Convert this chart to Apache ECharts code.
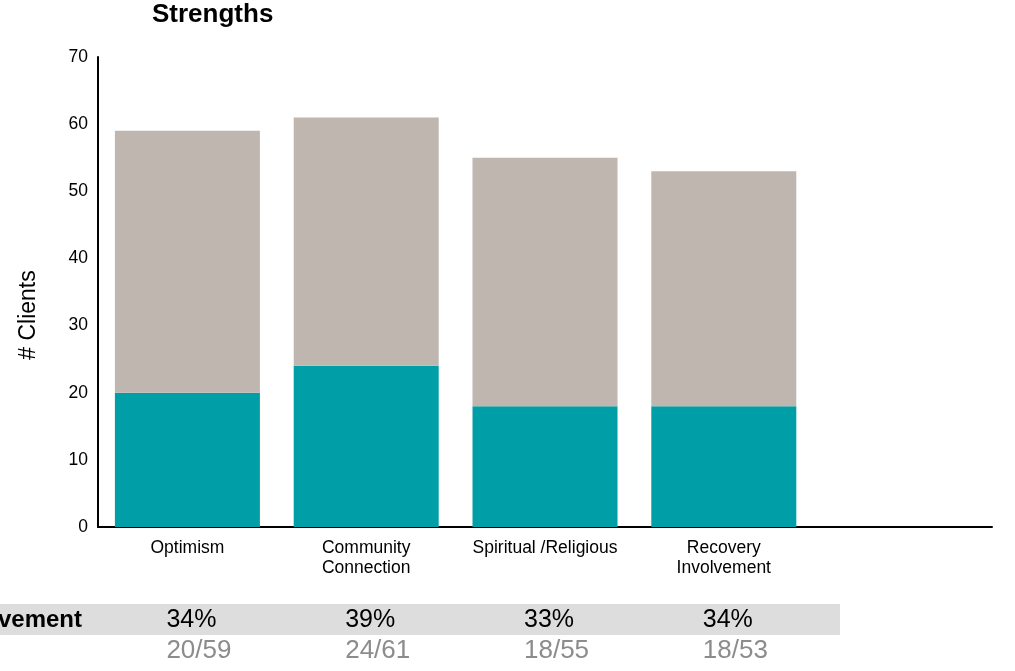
<!DOCTYPE html>
<html>
<head>
<meta charset="utf-8">
<script src="https://cdn.jsdelivr.net/npm/echarts@6/dist/echarts.min.js"></script>
<style>
html,body{margin:0;padding:0;background:#fff;}
#chart{width:1015px;height:671px;}
</style>
</head>
<body>
<div id="chart"></div>
<script>
const categories = ['Optimism', 'Community\nConnection', 'Spiritual /Religious', 'Recovery\nInvolvement', ''];
const involved = [20, 24, 18, 18, null];
const remainder = [39, 37, 37, 35, null];
const yTicks = { min: 0, max: 70, interval: 10 };
const pctLabels = ['34%', '39%', '33%', '34%'];
const fracLabels = ['20/59', '24/61', '18/55', '18/53'];
const rowLabel = 'Involvement';
const yTitle = '# Clients';

const FONT = 'Liberation Sans, Arial, sans-serif';
const chart = echarts.init(document.getElementById('chart'), null, { renderer: 'canvas' });

const option = {
  animation: false,
  backgroundColor: '#ffffff',
  title: {
    text: 'Strengths',
    left: 147, top: -3,
    textStyle: { fontFamily: FONT, fontSize: 26, fontWeight: 'bold', color: '#000' }
  },
  grid: { left: 98, right: 23, top: 57, bottom: 144, containLabel: false },
  xAxis: {
    type: 'category',
    data: categories,
    axisLine: { lineStyle: { color: '#000', width: 2 } },
    axisTick: { show: false },
    axisLabel: { interval: 0, margin: 11, fontFamily: FONT, fontSize: 17.5, lineHeight: 20, color: '#000' }
  },
  yAxis: {
    type: 'value',
    min: yTicks.min, max: yTicks.max, interval: yTicks.interval,
    axisLine: { show: true, lineStyle: { color: '#000', width: 2 } },
    axisTick: { show: false },
    splitLine: { show: false },
    axisLabel: { margin: 10, fontFamily: FONT, fontSize: 17.5, color: '#000' }
  },
  series: [
    { type: 'bar', stack: 's', data: involved, barWidth: 145, itemStyle: { color: '#009EA6' } },
    { type: 'bar', stack: 's', data: remainder, barWidth: 145, itemStyle: { color: '#BFB6B0' } }
  ]
};
chart.setOption(option);

const g = [
  { type: 'text', x: 29, y: 315, rotation: Math.PI / 2, style: { text: yTitle, align: 'center', verticalAlign: 'middle', font: '23px ' + FONT, fill: '#000' } },
  { type: 'rect', shape: { x: 0, y: 604, width: 840, height: 31 }, style: { fill: '#DDDDDD' }, z: 0 },
  { type: 'text', x: 82, y: 620, style: { text: rowLabel, align: 'right', verticalAlign: 'middle', font: 'bold 24px ' + FONT, fill: '#000' } }
];
pctLabels.forEach((p, i) => {
  const cx = chart.convertToPixel({ xAxisIndex: 0 }, categories[i]);
  g.push({ type: 'text', x: cx - 21, y: 620, style: { text: p, align: 'left', verticalAlign: 'middle', font: '25px ' + FONT, fill: '#000' } });
  g.push({ type: 'text', x: cx - 21, y: 651, style: { text: fracLabels[i], align: 'left', verticalAlign: 'middle', font: '26px ' + FONT, fill: '#8C8C8C' } });
});
chart.setOption({ graphic: g });
</script>
</body>
</html>
